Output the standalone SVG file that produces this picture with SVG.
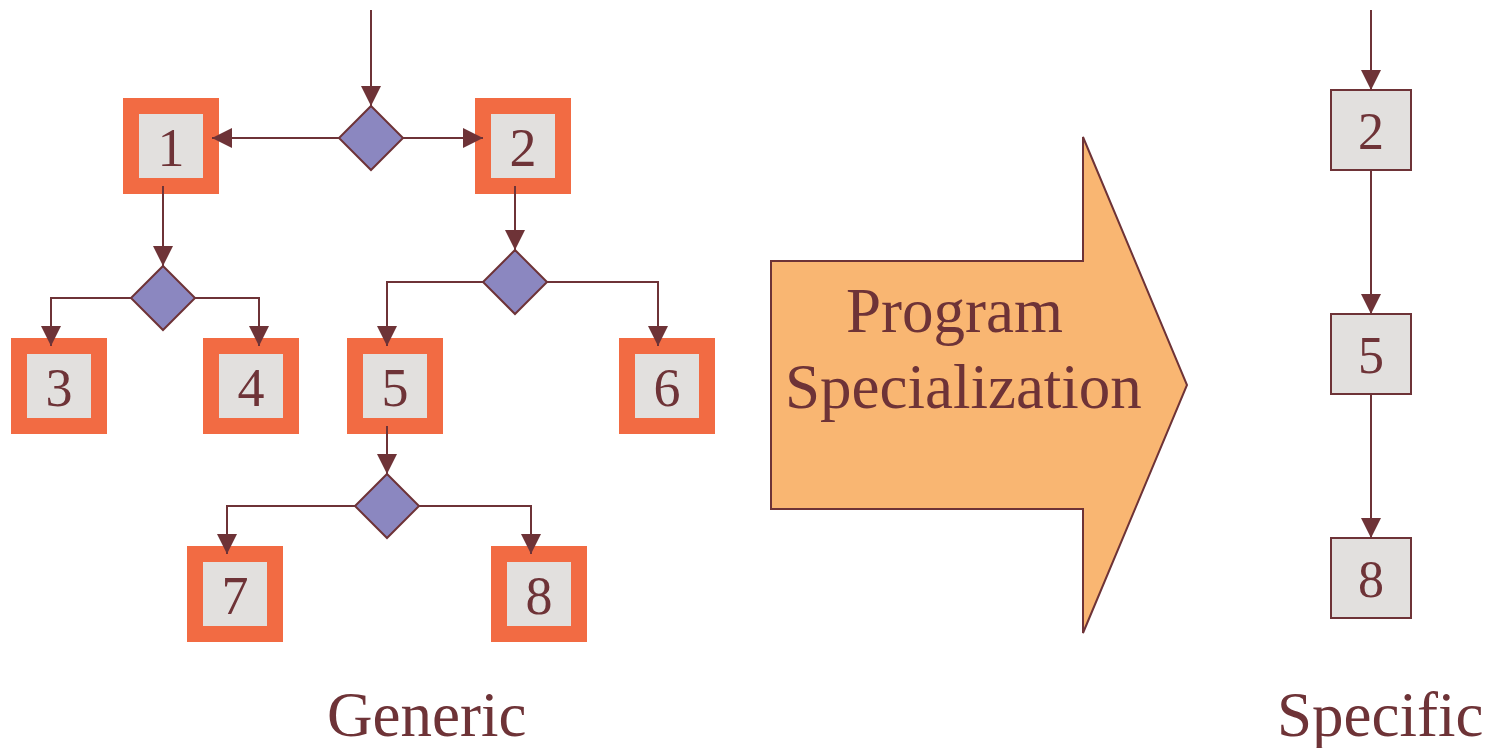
<svg xmlns="http://www.w3.org/2000/svg" width="1488" height="748" viewBox="0 0 1488 748">
<defs>
<marker id="ah" markerWidth="20" markerHeight="20" refX="20" refY="10" orient="auto" markerUnits="userSpaceOnUse">
<path d="M0,0 L20,10 L0,20 Z" fill="#6E3337"/>
</marker>
<style>
.ob{fill:#E2E0DE;stroke:#F26B43;stroke-width:16}
.sb{fill:#E2E0DE;stroke:#6E3337;stroke-width:2}
.dm{fill:#8B87C0;stroke:#6E3337;stroke-width:2}
.cn{fill:none;stroke:#6E3337;stroke-width:2;marker-end:url(#ah)}
.n{font-family:"Liberation Serif","Times New Roman",serif;font-size:54px;fill:#6E3337;text-anchor:middle}
.s{font-size:52px}
.t{font-family:"Liberation Serif","Times New Roman",serif;font-size:63px;fill:#6E3337}
</style>
</defs>
<rect width="1488" height="748" fill="#FFFFFF"/>
<g id="d1"><path class="dm" d="M371,106 L403,138 L371,170 L339,138 Z"/></g>
<g id="d2"><path class="dm" d="M163,266 L195,298 L163,330 L131,298 Z"/></g>
<g id="d3"><path class="dm" d="M515,250 L547,282 L515,314 L483,282 Z"/></g>
<g id="d4"><path class="dm" d="M387,474 L419,506 L387,538 L355,506 Z"/></g>
<g id="b1"><rect class="ob" x="131" y="106" width="80" height="80"/><text class="n" x="171" y="166">1</text></g>
<g id="b2"><rect class="ob" x="483" y="106" width="80" height="80"/><text class="n" x="523" y="166">2</text></g>
<g id="b3"><rect class="ob" x="19" y="346" width="80" height="80"/><text class="n" x="59" y="406">3</text></g>
<g id="b4"><rect class="ob" x="211" y="346" width="80" height="80"/><text class="n" x="251" y="406">4</text></g>
<g id="b5"><rect class="ob" x="355" y="346" width="80" height="80"/><text class="n" x="395" y="406">5</text></g>
<g id="b6"><rect class="ob" x="627" y="346" width="80" height="80"/><text class="n" x="667" y="406">6</text></g>
<g id="b7"><rect class="ob" x="195" y="554" width="80" height="80"/><text class="n" x="235" y="614">7</text></g>
<g id="b8"><rect class="ob" x="499" y="554" width="80" height="80"/><text class="n" x="539" y="614">8</text></g>
<g id="arrow">
<path d="M771,261 H1083 V137 L1187,385 L1083,633 V509 H771 Z" fill="#F9B672" stroke="#6E3337" stroke-width="2"/>
<text class="t" x="846" y="332">Program</text>
<text class="t" x="785" y="408">Specialization</text>
</g>
<g id="s2"><rect class="sb" x="1331" y="90" width="80" height="80"/><text class="n s" x="1371" y="149">2</text></g>
<g id="s5"><rect class="sb" x="1331" y="314" width="80" height="80"/><text class="n s" x="1371" y="373">5</text></g>
<g id="s8"><rect class="sb" x="1331" y="538" width="80" height="80"/><text class="n s" x="1371" y="597">8</text></g>
<g id="connectors">
<path class="cn" d="M371,10 V106"/>
<path class="cn" d="M339,138 H212"/>
<path class="cn" d="M403,138 H483"/>
<path class="cn" d="M163,186 V266"/>
<path class="cn" d="M515,186 V250"/>
<path class="cn" d="M131,298 H51 V346"/>
<path class="cn" d="M195,298 H259 V346"/>
<path class="cn" d="M483,282 H387 V346"/>
<path class="cn" d="M547,282 H658 V346"/>
<path class="cn" d="M387,426 V474"/>
<path class="cn" d="M355,506 H227 V554"/>
<path class="cn" d="M419,506 H531 V554"/>
<path class="cn" d="M1371,10 V90"/>
<path class="cn" d="M1371,170 V314"/>
<path class="cn" d="M1371,394 V538"/>
</g>
<text class="t" x="327" y="736">Generic</text>
<text class="t" x="1277" y="736">Specific</text>
</svg>
